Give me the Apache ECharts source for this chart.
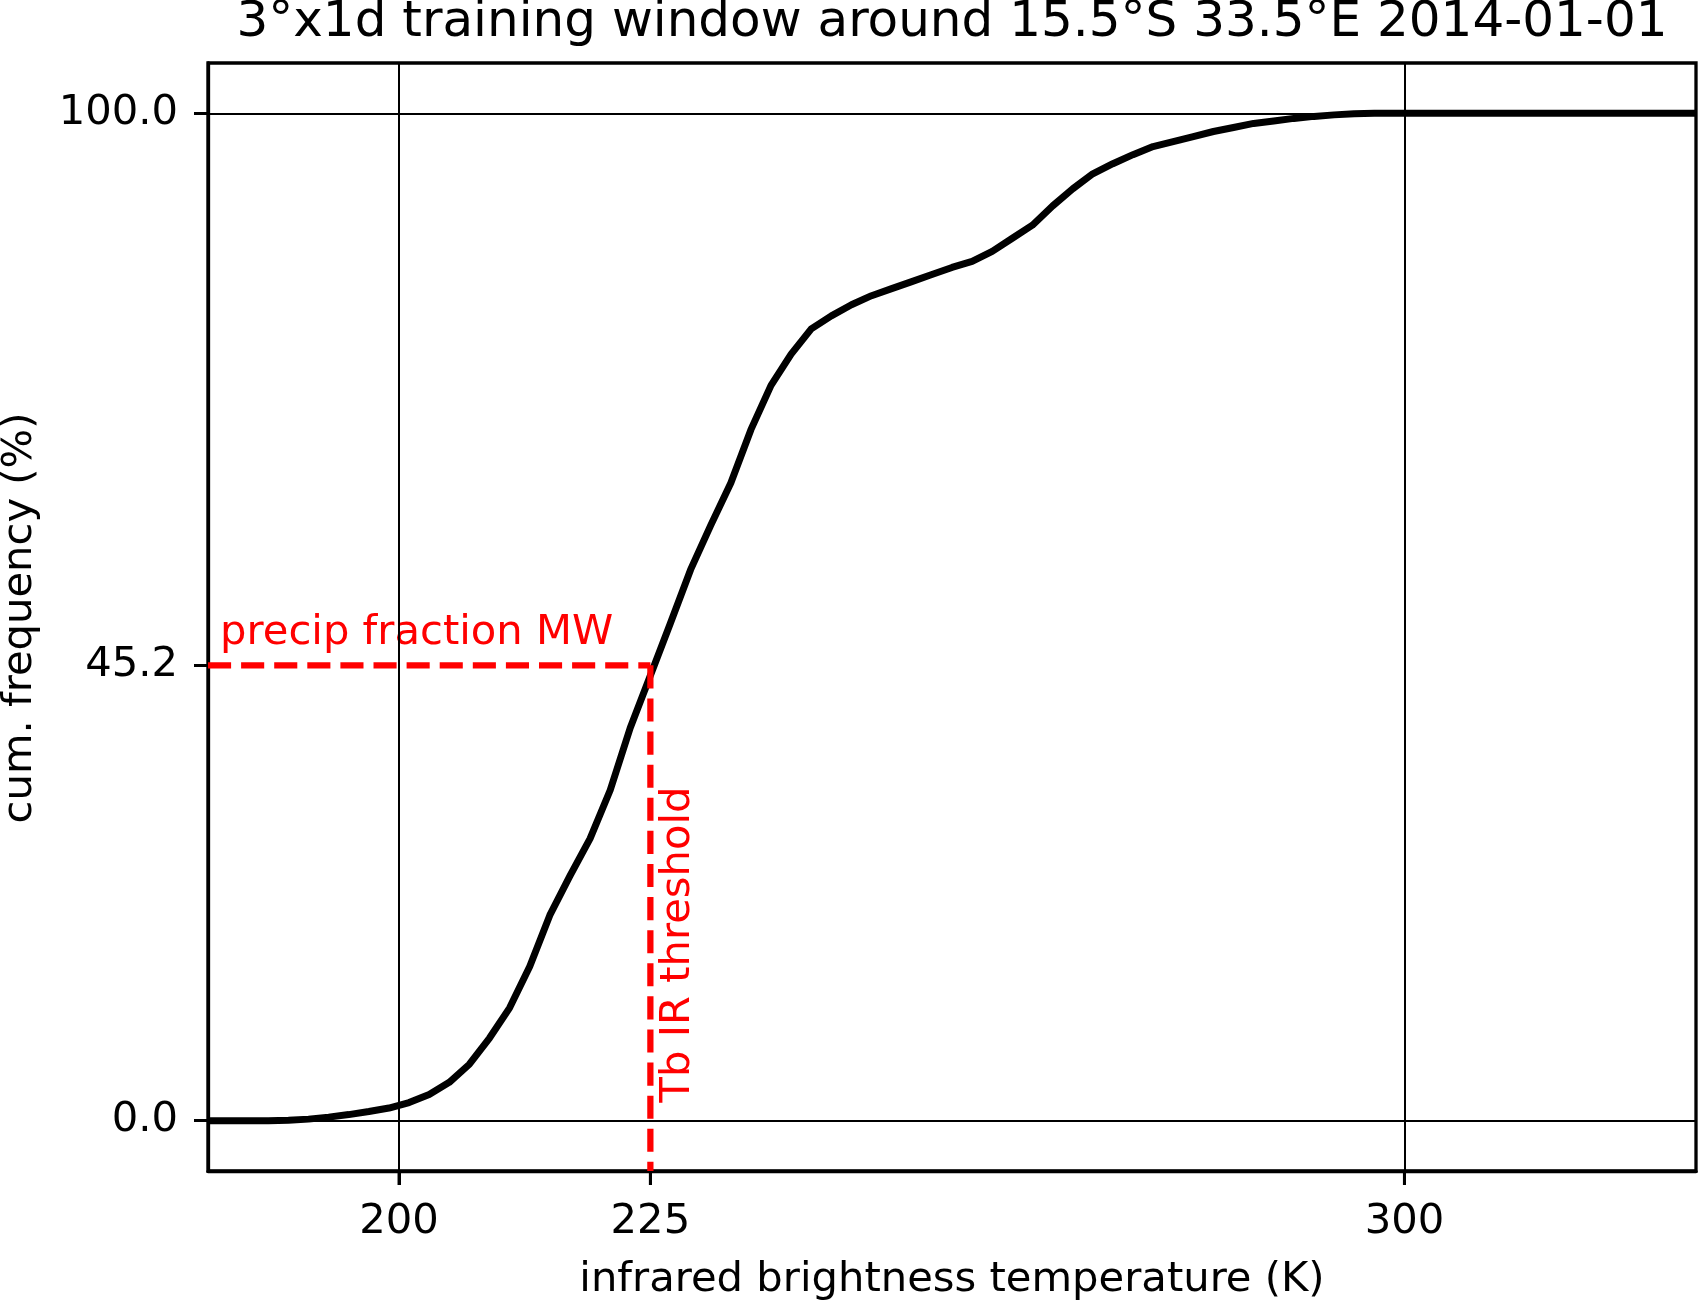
<!DOCTYPE html>
<html><head><meta charset="utf-8">
<script src="https://cdn.jsdelivr.net/npm/echarts@6/dist/echarts.min.js"></script>
<style>html,body{margin:0;padding:0;background:#fff}#c{width:1699px;height:1301px}</style>
</head><body><div id="c"></div>
<script>
const titleText = '3°x1d training window around 15.5°S 33.5°E 2014-01-01';
const xAxisName = 'infrared brightness temperature (K)';
const yAxisName = 'cum. frequency (%)';
const fractionLabel = 'precip fraction MW';
const thresholdLabel = 'Tb IR threshold';

const tbK = [181,183,185,187,189,191,193,195,197,199,201,203,205,207,209,211,213,215,217,219,
  221,223,225,227,229,231,233,235,237,239,241,243,245,247,249,251,253,255,257,259,
  261,263,265,267,269,271,273,275,277,279,281,283,285,287,289,291,293,295,297,299,
  301,303,305,307,309,311,313,315,317,319,321,323,325,327,329];
const cumFreq = [0,0,0,0,0.05,0.15,0.35,0.6,0.9,1.25,1.8,2.6,3.8,5.6,8.2,11.2,15.3,20.4,24.3,28.0,
  32.8,39.0,44.2,49.4,54.7,59.1,63.3,68.6,73.0,76.1,78.6,79.9,81.0,81.9,82.6,83.3,84.0,84.7,85.3,86.3,
  87.6,88.9,90.8,92.5,94.0,95.0,95.9,96.7,97.2,97.7,98.2,98.6,99.0,99.25,99.5,99.7,99.85,99.95,100,100,
  100,100,100,100,100,100,100,100,100,100,100,100,100,100,100];

const xTicks = [200, 225, 300];
const yTicks = [0, 45.2, 100];
const xGridLines = [200, 300];
const yGridLines = [0, 100];
const xRange = [181, 329];
const yRange = [-5, 105];
const tbThreshold = 225;
const precipFraction = 45.2;

const FONT = 'DejaVu Sans';
const FS = 41.7;
const TICK_LEN = 14;
const chart = echarts.init(document.getElementById('c'), null, {renderer: 'canvas'});

const curve = tbK.map((x, i) => [x, cumFreq[i]]);
const gridMarks = xGridLines.map(v => ({xAxis: v})).concat(yGridLines.map(v => ({yAxis: v})));
const redStyle = {color: '#ff0000', width: 6.25, type: [23.1, 10], cap: 'butt'};
const spine = {show: true, onZero: false, lineStyle: {color: '#000', width: 3.3}};

chart.setOption({
  animation: false,
  backgroundColor: '#fff',
  grid: {left: 208, right: 3, top: 63, bottom: 130, show: true, borderColor: '#000', borderWidth: 3.3, backgroundColor: 'transparent'},
  xAxis: {
    type: 'value', min: xRange[0], max: xRange[1],
    axisLine: spine,
    splitLine: {show: false},
    axisTick: {show: true, inside: false, length: TICK_LEN, customValues: xTicks, lineStyle: {color: '#000', width: 3}},
    axisLabel: {show: true, customValues: xTicks, margin: 30, color: '#000', fontFamily: FONT, fontSize: FS, lineHeight: FS}
  },
  yAxis: {
    type: 'value', min: yRange[0], max: yRange[1],
    axisLine: spine,
    splitLine: {show: false},
    axisTick: {show: true, inside: false, length: TICK_LEN, customValues: yTicks, lineStyle: {color: '#000', width: 3}},
    axisLabel: {show: true, customValues: yTicks, margin: 30, color: '#000', fontFamily: FONT, fontSize: FS,
      formatter: v => Number(v).toFixed(1)}
  },
  series: [
    {type: 'line', name: 'grid', data: [], silent: true, z: 1,
      markLine: {silent: true, symbol: ['none', 'none'], label: {show: false}, animation: false,
        lineStyle: {color: '#000', width: 2, type: 'solid'}, data: gridMarks}},
    {type: 'line', name: 'cdf', data: curve, showSymbol: false, symbol: 'none', z: 3,
      lineStyle: {color: '#000', width: 7, join: 'round'}},
    {type: 'line', name: 'fraction', data: [[xRange[0], precipFraction], [tbThreshold, precipFraction]],
      showSymbol: false, symbol: 'none', z: 4, lineStyle: redStyle},
    {type: 'line', name: 'threshold', data: [[tbThreshold, precipFraction], [tbThreshold, yRange[0]]],
      showSymbol: false, symbol: 'none', z: 4, lineStyle: redStyle}
  ]
});

// x-axis tick marks below the bottom spine, positioned through the axis scale
const xTickGraphics = xTicks.map(v => {
  const p = chart.convertToPixel({gridIndex: 0}, [v, yRange[0]]);
  return {type: 'line', silent: true, z: 10,
    shape: {x1: p[0], y1: p[1], x2: p[0], y2: p[1] + TICK_LEN},
    style: {stroke: '#000', lineWidth: 3, lineCap: 'butt'}};
});

const pFrac = chart.convertToPixel({gridIndex: 0}, [182.2, 47.3]);
const pThr = chart.convertToPixel({gridIndex: 0}, [226.0, 2.4]);
const f = FS + 'px "DejaVu Sans"';

chart.setOption({
  graphic: xTickGraphics.concat([
    {type: 'text', x: 952, y: 23, style: {text: titleText, font: '50px "DejaVu Sans"', fill: '#000', align: 'center', verticalAlign: 'middle'}},
    {type: 'text', x: 952, y: 1280, style: {text: xAxisName, font: f, fill: '#000', align: 'center', verticalAlign: 'middle'}},
    {type: 'text', x: 20, y: 618, rotation: Math.PI / 2, style: {text: yAxisName, font: f, fill: '#000', align: 'center', verticalAlign: 'middle'}},
    {type: 'text', x: pFrac[0], y: pFrac[1] - 11.5, style: {text: fractionLabel, font: f, fill: '#ff0000', align: 'left', verticalAlign: 'middle'}},
    {type: 'text', x: pThr[0] + 18, y: pThr[1] - 152, rotation: Math.PI / 2, style: {text: thresholdLabel, font: f, fill: '#ff0000', align: 'center', verticalAlign: 'middle'}}
  ])
});
</script>
</body></html>
